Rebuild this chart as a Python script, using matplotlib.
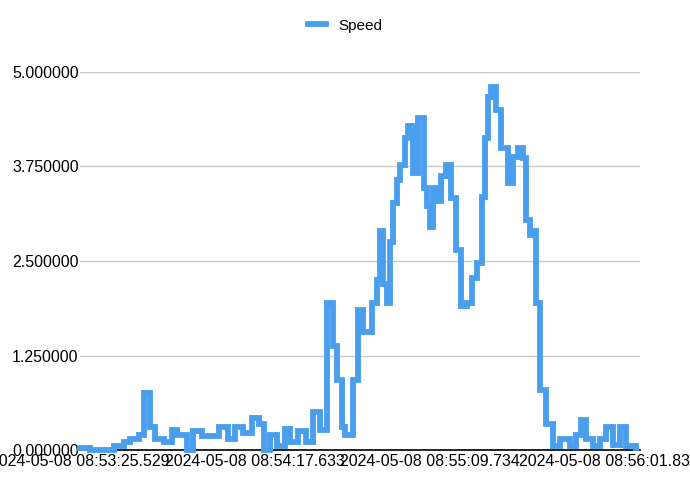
import matplotlib
matplotlib.use("Agg")
import matplotlib.pyplot as plt
from matplotlib.ticker import FixedLocator, FuncFormatter

plt.rcParams['font.family'] = ['Liberation Sans', 'DejaVu Sans']

t = [0, 3.1, 10.0, 13.0, 15.0, 17.5, 19.0, 20.9, 22.4, 24.9, 27.4, 28.9, 31.8, 33.8, 36.3,
     41.3, 44.2, 46.2, 48.7, 51.2, 53.2, 54.7, 56.6, 58.6, 61.1, 62.6, 65.1, 67.5, 69.5, 71.5,
     73.5, 75.5,
     76.5, 78.0, 79.0, 81.5, 82.9, 84.4, 86.9, 88.4, 89.4, 90.4, 91.4, 92.4, 93.4, 94.4, 95.3,
     96.8, 97.8, 99.3, 100.8, 102.5, 103.5, 104.3, 105.3, 106.3, 107.7, 109.2, 110.7, 112.2,
     113.7, 115.2, 116.7, 118.2, 119.7, 120.6, 121.6, 122.6, 124.1, 125.6, 127.6, 129.1, 130.6,
     132.1, 133.0, 134.0, 135.0, 136.0, 137.2, 139.0, 141.0, 143.0, 145.9, 147.9, 149.4, 150.9,
     152.9, 154.9, 156.9, 158.8, 160.8, 162.8, 165.8]
speed = [0.03, 0, 0.05, 0.1, 0.15, 0.2, 0.75, 0.3, 0.15, 0.1, 0.27, 0.2, 0, 0.25, 0.18,
         0.3, 0.15, 0.3, 0.22, 0.42, 0.35, 0, 0.2, 0.05, 0.28, 0.1, 0.25, 0.1, 0.5, 0.27,
         1.95, 1.37,
         0.93, 0.3, 0.2, 0.93, 1.85, 1.56, 1.94, 2.25, 2.9, 2.2, 1.95, 2.75, 3.27, 3.57, 3.77,
         4.13, 4.28, 3.66, 4.39, 3.47, 3.23, 2.95, 3.47, 3.3, 3.62, 3.77, 3.33, 2.65,
         1.9, 1.94, 2.27, 2.47, 3.35, 4.13, 4.67, 4.8, 4.5, 4.0, 3.53, 3.88, 4.0,
         3.86, 3.04, 2.85, 2.9, 1.94, 0.8, 0.35, 0.05, 0.15, 0.05, 0.2, 0.4, 0.14,
         0.05, 0.15, 0.3, 0.07, 0.3, 0.05, 0.02]
xtick_pos = [0, 52.104, 104.205, 156.3]
xtick_labels = ["2024-05-08 08:53:25.529", "2024-05-08 08:54:17.633",
                "2024-05-08 08:55:09.734", "2024-05-08 08:56:01.83"]
yticks = [0, 1.25, 2.5, 3.75, 5.0]

fig = plt.figure(figsize=(6.9, 4.93), dpi=100)
ax = fig.add_axes([80/690, 43/493, 560/690, 378/493])
ax.step(t, speed, where="post", color="#4A9EEE", lw=4.2, label="Speed", clip_on=False,
        zorder=3, solid_joinstyle="miter")
ax.set_xlim(0, 166.9)
ax.set_ylim(0, 5)
ax.yaxis.set_major_locator(FixedLocator(yticks))
ax.yaxis.set_major_formatter(FuncFormatter(lambda v, p: f"{v:.6f}"))
ax.set_xticks(xtick_pos)
ax.set_xticklabels(xtick_labels)
ax.grid(axis="y", color="#c8c8c8", lw=1)
ax.set_axisbelow(True)
for s in ["top", "right", "left"]:
    ax.spines[s].set_visible(False)
ax.spines["bottom"].set_color("black")
ax.spines["bottom"].set_linewidth(1.2)
ax.tick_params(length=0, labelsize=11.5, pad=3)
ax.tick_params(axis="y", pad=1)
fig.legend(loc="upper center", bbox_to_anchor=(0.5, 0.99), frameon=False, fontsize=11,
           handlelength=1.2)
fig.savefig("out.png", dpi=100)
